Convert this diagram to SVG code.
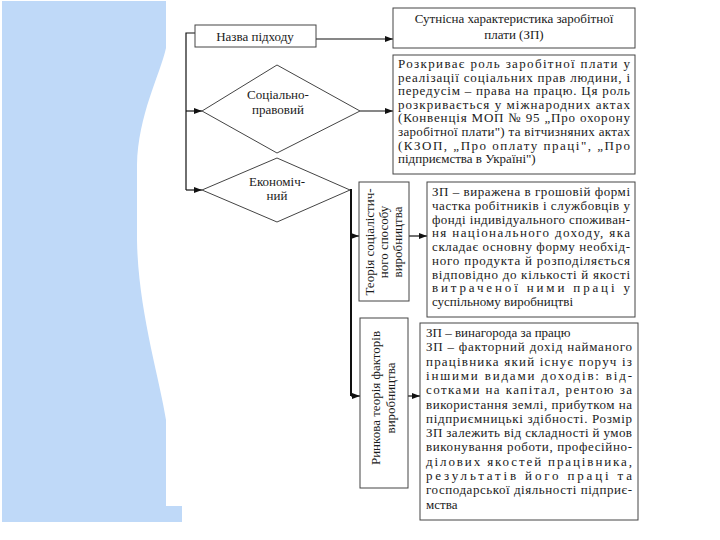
<svg xmlns="http://www.w3.org/2000/svg" width="720" height="540" viewBox="0 0 720 540">
<defs>
<marker id="ah" viewBox="0 0 8 6" refX="8" refY="3" markerWidth="8" markerHeight="6" markerUnits="userSpaceOnUse" orient="auto">
<path d="M0,0 L8,3 L0,6 Z" fill="#111"/>
</marker>
<style>
text{font-family:'Liberation Serif','DejaVu Serif',serif;font-size:13px;fill:#1a1a1a}
.c{text-anchor:middle}
.box{fill:#fff;stroke:#444;stroke-width:1}
.ln{fill:none;stroke:#111;stroke-width:1.2}
.thick{fill:none;stroke:#111;stroke-width:2}
</style>
</defs>
<rect width="720" height="540" fill="#fff"/>
<path d="M2,1 H166 V48 C160,75 138,115 137,165 L137,240 C138,310 160,380 166,420 V506 H182 V522 H2 Z" fill="#BFD9F8"/>

<g id="connectors">
<polyline class="ln" points="195,33 186,33 186,190"/>
<line class="ln" x1="316" y1="39" x2="393" y2="39" marker-end="url(#ah)"/>
<line class="ln" x1="186" y1="111" x2="202" y2="111" marker-end="url(#ah)"/>
<line class="ln" x1="186" y1="190" x2="202" y2="190" marker-end="url(#ah)"/>
<line class="ln" x1="360" y1="111" x2="393" y2="111" marker-end="url(#ah)"/>
<polyline class="thick" points="350,190 351,190 351,396"/>
<line class="ln" x1="351" y1="236" x2="359" y2="236" marker-end="url(#ah)"/>
<line class="ln" x1="351" y1="396" x2="360" y2="396" marker-end="url(#ah)"/>
<line class="ln" x1="409" y1="236" x2="427" y2="236" marker-end="url(#ah)"/>
<line class="ln" x1="408" y1="396" x2="420" y2="396" marker-end="url(#ah)"/>
</g>

<g font-family="'Liberation Serif','DejaVu Serif',serif" font-size="13">
<g id="n-nazva">
<rect class="box" x="195" y="25" width="121" height="22"/>
<text class="c" x="255" y="41">Назва підходу</text>
</g>

<g id="n-sutnisna">
<rect class="box" x="393" y="8" width="242" height="40"/>
<text class="c" x="514" y="23">Сутнісна характеристика заробітної</text>
<text class="c" x="514" y="39">плати (ЗП)</text>
</g>

<g id="n-socialno">
<polygon class="box" points="202,111 277,65 360,111 277,153"/>
<text class="c" x="278" y="99">Соціально-</text>
<text class="c" x="278" y="114">правовий</text>
</g>

<g id="n-ekonom">
<polygon class="box" points="202,190 277,158 350,190 277,222"/>
<text class="c" x="277" y="186">Економіч-</text>
<text class="c" x="277" y="200">ний</text>
</g>

<g id="n-box2">
<rect class="box" x="393" y="55" width="242" height="119"/>
<text x="398" y="68" textLength="232" lengthAdjust="spacing">Розкриває роль заробітної плати у</text>
<text x="398" y="81.6" textLength="232" lengthAdjust="spacing">реалізації соціальних прав людини, і</text>
<text x="398" y="95.2" textLength="232" lengthAdjust="spacing">передусім – права на працю. Ця роль</text>
<text x="398" y="108.8" textLength="232" lengthAdjust="spacing">розкривається у міжнародних актах</text>
<text x="398" y="122.4" textLength="232" lengthAdjust="spacing">(Конвенція МОП № 95 „Про охорону</text>
<text x="398" y="136" textLength="232" lengthAdjust="spacing">заробітної плати") та вітчизняних актах</text>
<text x="398" y="149.6" textLength="232" lengthAdjust="spacing">(КЗОП, „Про оплату праці", „Про</text>
<text x="398" y="163.2">підприємства в Україні")</text>
</g>

<g id="n-teoria-soc">
<rect class="box" x="359" y="182" width="50" height="119"/>
<text class="c" transform="translate(374,242) rotate(-90)">Теорія соціалістич-</text>
<text class="c" transform="translate(388,242) rotate(-90)">ного способу</text>
<text class="c" transform="translate(402,242) rotate(-90)">виробництва</text>
</g>

<g id="n-box3">
<rect class="box" x="427" y="182" width="208" height="135"/>
<text x="432" y="196" textLength="198" lengthAdjust="spacing">ЗП – виражена в грошовій формі</text>
<text x="432" y="209.75" textLength="198" lengthAdjust="spacing">частка робітників і службовців у</text>
<text x="432" y="223.5" textLength="198" lengthAdjust="spacing">фонді індивідуального споживан-</text>
<text x="432" y="237.25" textLength="198" lengthAdjust="spacing">ня національного доходу, яка</text>
<text x="432" y="251" textLength="198" lengthAdjust="spacing">складає основну форму необхід-</text>
<text x="432" y="264.75" textLength="198" lengthAdjust="spacing">ного продукта й розподіляється</text>
<text x="432" y="278.5" textLength="198" lengthAdjust="spacing">відповідно до кількості й якості</text>
<text x="432" y="292.25" textLength="198" lengthAdjust="spacing">витраченої ними праці у</text>
<text x="432" y="306">суспільному виробництві</text>
</g>

<g id="n-rynkova">
<rect class="box" x="360" y="318" width="48" height="170"/>
<text class="c" transform="translate(380,398) rotate(-90)">Ринкова теорія факторів</text>
<text class="c" transform="translate(395,398) rotate(-90)">виробництва</text>
</g>

<g id="n-box4">
<rect class="box" x="420" y="323" width="218" height="197"/>
<text x="426" y="337">ЗП – винагорода за працю</text>
<text x="426" y="351.3" textLength="206" lengthAdjust="spacing">ЗП – факторний дохід найманого</text>
<text x="426" y="365.6" textLength="206" lengthAdjust="spacing">працівника який існує поруч із</text>
<text x="426" y="379.9" textLength="206" lengthAdjust="spacing">іншими видами доходів: від-</text>
<text x="426" y="394.2" textLength="206" lengthAdjust="spacing">сотками на капітал, рентою за</text>
<text x="426" y="408.5" textLength="206" lengthAdjust="spacing">використання землі, прибутком на</text>
<text x="426" y="422.8" textLength="206" lengthAdjust="spacing">підприємницькі здібності. Розмір</text>
<text x="426" y="437.1" textLength="206" lengthAdjust="spacing">ЗП залежить від складності й умов</text>
<text x="426" y="451.4" textLength="206" lengthAdjust="spacing">виконування роботи, професійно-</text>
<text x="426" y="465.7" textLength="206" lengthAdjust="spacing">ділових якостей працівника,</text>
<text x="426" y="480" textLength="206" lengthAdjust="spacing">результатів його праці та</text>
<text x="426" y="494.3" textLength="206" lengthAdjust="spacing">господарської діяльності підприє-</text>
<text x="426" y="508.6">мства</text>
</g>
</g>
</svg>
